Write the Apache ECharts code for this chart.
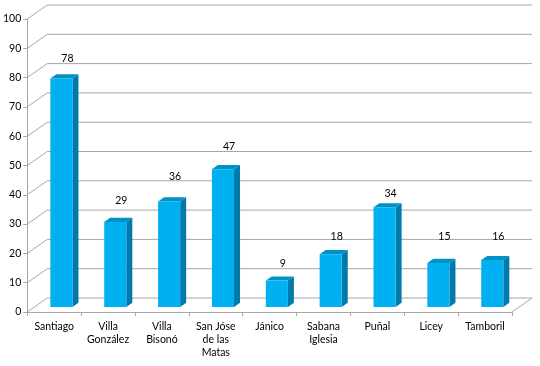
<!DOCTYPE html>
<html>
<head>
<meta charset="utf-8">
<script src="https://cdn.jsdelivr.net/npm/echarts@6/dist/echarts.min.js"></script>
<style>html,body{margin:0;padding:0;background:#fff}#c{width:540px;height:366px}</style>
</head>
<body>
<div id="c"></div>
<script>
var categories = ['Santiago', 'Villa\nGonzález', 'Villa\nBisonó', 'San Jóse\nde las\nMatas', 'Jánico', 'Sabana\nIglesia', 'Puñal', 'Licey', 'Tamboril'];
var values = [78, 29, 36, 47, 9, 18, 34, 15, 16];
var yTicks = [0, 10, 20, 30, 40, 50, 60, 70, 80, 90, 100];
// style: gap (px) between the top of each bar and its value label, as placed in the original
var labelGap = [20, 21, 25, 23, 17, 18, 14, 26, 23];

var DEPTH_X = 20, DEPTH_Y = -14;
var FRONT = 0.36, BACK = 0.66;
var GRID_COLOR = '#a6a6a6';
var FONT = 'Lato';
var FS = 10.5;

var chart = echarts.init(document.getElementById('c'));
chart.setOption({
  animation: false,
  grid: { left: 26, right: 28, top: 19, bottom: 54 },
  xAxis: {
    type: 'category',
    data: categories,
    axisLine: { show: true, lineStyle: { color: GRID_COLOR, width: 1 } },
    axisTick: { show: true, length: 4, lineStyle: { color: GRID_COLOR } },
    axisLabel: { interval: 0, color: '#000', fontSize: FS, fontFamily: FONT, lineHeight: 13, margin: 8 },
    splitLine: { show: false }
  },
  yAxis: {
    type: 'value', min: 0, max: 100, interval: 10,
    axisLine: { show: true, lineStyle: { color: GRID_COLOR, width: 1 } },
    axisTick: { show: true, length: 4, lineStyle: { color: GRID_COLOR } },
    axisLabel: { color: '#000', fontSize: FS, fontFamily: FONT, margin: 6 },
    splitLine: { show: false }
  },
  series: [
    {
      type: 'custom',
      z: 1,
      silent: true,
      data: yTicks.map(function (v) { return [0, v]; }),
      renderItem: function (params, api) {
        var cs = params.coordSys;
        var y = api.coord([0, api.value(1)])[1];
        var x0 = cs.x, x1 = cs.x + cs.width;
        var children = [{
          type: 'polyline',
          shape: { points: [[x0, y], [x0 + DEPTH_X, y + DEPTH_Y], [x1 + DEPTH_X, y + DEPTH_Y]] },
          style: { stroke: GRID_COLOR, fill: null, lineWidth: 1 }
        }];
        if (api.value(1) === 0) {
          children.push({
            type: 'line',
            shape: { x1: x1, y1: y, x2: x1 + DEPTH_X, y2: y + DEPTH_Y },
            style: { stroke: GRID_COLOR, lineWidth: 1 }
          });
        }
        return { type: 'group', children: children };
      }
    },
    {
      type: 'custom',
      z: 2,
      data: values.map(function (v, i) { return [i, v]; }),
      renderItem: function (params, api) {
        var i = api.value(0), v = api.value(1);
        var base = api.coord([i, 0]);
        var top = api.coord([i, v]);
        var bw = api.size([1, 0])[0] * 0.41;
        var fx = FRONT * DEPTH_X, fy = FRONT * DEPTH_Y;
        var dx = (BACK - FRONT) * DEPTH_X, dy = (BACK - FRONT) * DEPTH_Y;
        var L = base[0] - bw / 2 + fx, R = L + bw;
        var T = top[1] + fy, B = base[1] + fy;
        return {
          type: 'group',
          children: [
            { type: 'polygon', shape: { points: [[R, T], [R + dx, T + dy], [R + dx, B + dy], [R, B]] }, style: { fill: '#0079ab' } },
            { type: 'polygon', shape: { points: [[L, T], [L + dx, T + dy], [R + dx, T + dy], [R, T]] }, style: { fill: '#0091c6' } },
            { type: 'rect', shape: { x: L, y: T, width: bw, height: B - T }, style: { fill: '#00b0f0' } },
            { type: 'text', style: { text: String(v), x: base[0] + fx + dx, y: T - labelGap[i], align: 'center', verticalAlign: 'middle', fill: '#000', fontSize: FS, fontFamily: FONT } }
          ]
        };
      }
    }
  ]
});
</script>
</body>
</html>
